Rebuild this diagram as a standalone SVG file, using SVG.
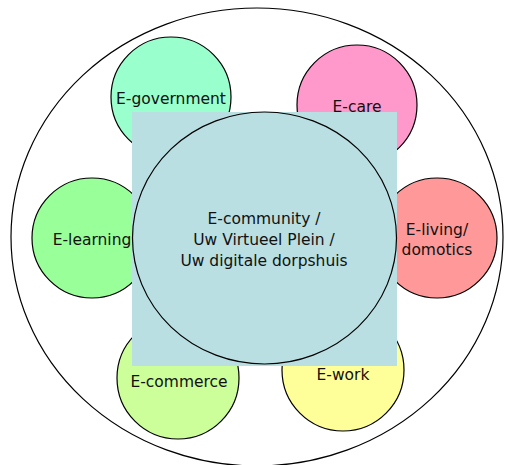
<svg xmlns="http://www.w3.org/2000/svg" width="506" height="465" viewBox="0 0 506 465">
<style>
  .n { stroke: #000; stroke-width: 1.2; }
  .t { font-family: "DejaVu Sans", Verdana, sans-serif; font-size: 15.5px; fill: #111; text-anchor: middle; }
</style>
<rect x="0" y="0" width="506" height="465" fill="#fff"/>
<g id="outer">
  <ellipse cx="257" cy="237" rx="246" ry="229" fill="none" class="n"/>
</g>
<g id="e-government">
  <circle cx="171" cy="97" r="60" fill="#99FFCC" class="n"/>
  <text class="t" x="171" y="104">E-government</text>
</g>
<g id="e-care">
  <circle cx="357" cy="105" r="60" fill="#FF99CC" class="n"/>
  <text class="t" x="357" y="112">E-care</text>
</g>
<g id="e-learning">
  <circle cx="92" cy="238" r="60" fill="#99FF99" class="n"/>
  <text class="t" x="92" y="245">E-learning</text>
</g>
<g id="e-living">
  <circle cx="437" cy="238" r="60" fill="#FF9999" class="n"/>
  <text class="t" x="437" y="235">E-living/</text>
  <text class="t" x="437" y="255">domotics</text>
</g>
<g id="e-commerce">
  <circle cx="178" cy="378" r="61" fill="#CCFF99" class="n"/>
  <text class="t" x="179" y="387">E-commerce</text>
</g>
<g id="e-work">
  <circle cx="343" cy="370" r="61" fill="#FFFF99" class="n"/>
  <text class="t" x="343" y="380">E-work</text>
</g>
<g id="e-community">
  <rect x="132" y="112" width="265" height="254" fill="#B9DFE2"/>
  <ellipse cx="264.5" cy="238" rx="132" ry="126" fill="#B9DFE2" class="n"/>
  <text class="t" x="264" y="224">E-community /</text>
  <text class="t" x="264" y="245">Uw Virtueel Plein /</text>
  <text class="t" x="264" y="266">Uw digitale dorpshuis</text>
</g>
</svg>
